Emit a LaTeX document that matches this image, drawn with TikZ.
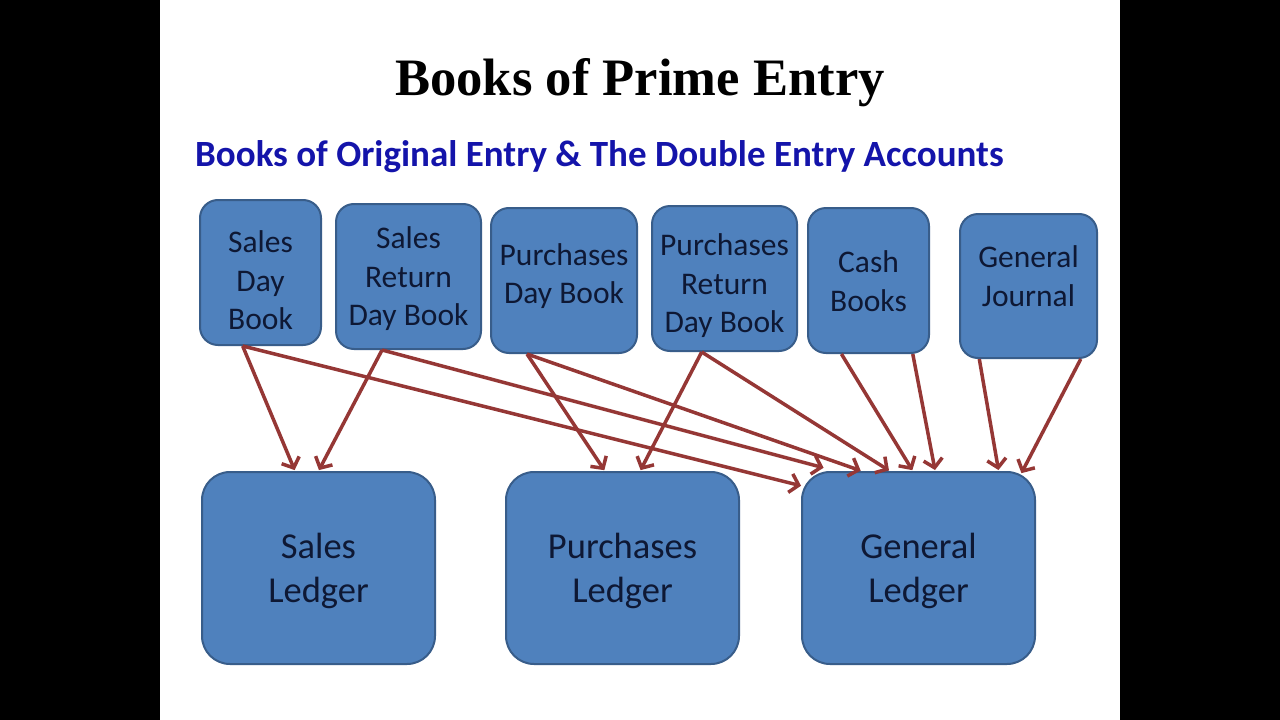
\documentclass[tikz,border=0pt]{standalone}
\usepackage{fontspec}
\setmainfont{Carlito}
\newfontfamily\titlefont{Liberation Serif}
\usetikzlibrary{arrows.meta,calc}
\definecolor{boxfill}{RGB}{79,129,189}
\definecolor{boxline}{RGB}{56,93,138}
\definecolor{boxtext}{RGB}{14,24,52}
\definecolor{arrowred}{RGB}{149,55,53}
\definecolor{subblue}{RGB}{20,20,170}
\begin{document}
\begin{tikzpicture}[x=1pt,y=-1pt,
 smallbox/.style={draw=boxline, line width=2pt, fill=boxfill, rounded corners=18pt, inner sep=0pt},
 bigbox/.style={draw=boxline, line width=2pt, fill=boxfill, rounded corners=28pt, inner sep=0pt, minimum width=233pt, minimum height=192pt},
 smalltext/.style={text=boxtext, align=center, font=\fontsize{31.5}{38.5}\selectfont, inner sep=0pt},
 bigtext/.style={text=boxtext, align=center, font=\fontsize{36.5}{44}\selectfont, inner sep=0pt},
 link/.style={draw=arrowred, line width=3.5pt, shorten >=1pt, -{Straight Barb[length=8.5pt,width=19pt]}}]

\path[fill=black] (0,0) rectangle (1280,720);
\path[fill=white] (160,0) rectangle (1120,720);
\useasboundingbox (0,0) rectangle (1280,720);

\node[anchor=base, font=\titlefont\bfseries\fontsize{52.6}{60}\selectfont] (title) at (640,95) {Books of Prime Entry};
\node[anchor=base west, text=subblue, font=\bfseries\fontsize{37}{42}\selectfont, inner sep=0pt] (subtitle) at (195,166) {Books of Original Entry \& The Double Entry Accounts};

% top boxes
\node[smallbox, minimum width=121pt, minimum height=145pt] (sdb) at (260.5,272.5) {};
\node[smallbox, minimum width=145pt, minimum height=145pt] (srdb) at (408.5,276.5) {};
\node[smallbox, minimum width=146pt, minimum height=145pt] (pdb) at (564,280.5) {};
\node[smallbox, minimum width=145pt, minimum height=145pt] (prdb) at (724.5,278.5) {};
\node[smallbox, minimum width=121pt, minimum height=145pt] (cb) at (868.5,280.5) {};
\node[smallbox, minimum width=137pt, minimum height=144pt] (gj) at (1028.5,286) {};

\node[smalltext] (sdbt) at ($(sdb)+(0,8)$) {Sales\\Day\\Book};
\node[smalltext] (srdbt) at ($(srdb)+(0,2.5)$) {Sales\\Return\\Day Book};
\node[smalltext] (pdbt) at ($(pdb)+(0,-4.5)$) {Purchases\\Day Book};
\node[smalltext] (prdbt) at ($(prdb)+(0,7.5)$) {Purchases\\Return\\Day Book};
\node[smalltext] (cbt) at ($(cb)+(0,0.5)$) {Cash\\Books};
\node[smalltext] (gjt) at ($(gj)+(0,-10)$) {General\\Journal};

% bottom boxes
\node[bigbox] (sl) at (318.5,568) {};
\node[bigbox] (pl) at (622.5,568) {};
\node[bigbox] (gl) at (918.5,568) {};
\node[bigtext] (slt) at ($(sl)+(0,3)$) {Sales\\Ledger};
\node[bigtext] (plt) at ($(pl)+(0,3)$) {Purchases\\Ledger};
\node[bigtext] (glt) at ($(gl)+(0,3)$) {General\\Ledger};

% arrows
\draw[link] ($(sdb.south west)!0.355!(sdb.south east)$) -- ($(sl.north west)!0.40!(sl.north east)$);
\draw[link] ($(sdb.south west)!0.355!(sdb.south east)$) -- ($(gl.north west)+(1,15)$);
\draw[link] ($(srdb.south west)!0.32!(srdb.south east)$) -- ($(sl.north west)!0.50!(sl.north east)$);
\draw[link] ($(srdb.south west)!0.32!(srdb.south east)$) -- ($(gl.north west)!0.10!(gl.north east)+(0,-3)$);
\draw[link] ($(pdb.south west)!0.25!(pdb.south east)$) -- ($(pl.north west)!0.425!(pl.north east)$);
\draw[link] ($(pdb.south west)!0.25!(pdb.south east)$) -- ($(gl.north west)!0.258!(gl.north east)$);
\draw[link] ($(prdb.south west)!0.345!(prdb.south east)$) -- ($(pl.north west)!0.575!(pl.north east)$);
\draw[link] ($(prdb.south west)!0.345!(prdb.south east)$) -- ($(gl.north west)!0.378!(gl.north east)$);
\draw[link] ($(cb.south west)!0.28!(cb.south east)$) -- ($(gl.north west)!0.476!(gl.north east)$);
\draw[link] ($(cb.south west)!0.86!(cb.south east)$) -- ($(gl.north west)!0.571!(gl.north east)$);
\draw[link] ($(gj.south west)!0.146!(gj.south east)$) -- ($(gl.north west)!0.841!(gl.north east)$);
\draw[link] ($(gj.south west)!0.876!(gj.south east)$) -- ($(gl.north west)!0.936!(gl.north east)+(0,3)$);
\end{tikzpicture}
\end{document}
